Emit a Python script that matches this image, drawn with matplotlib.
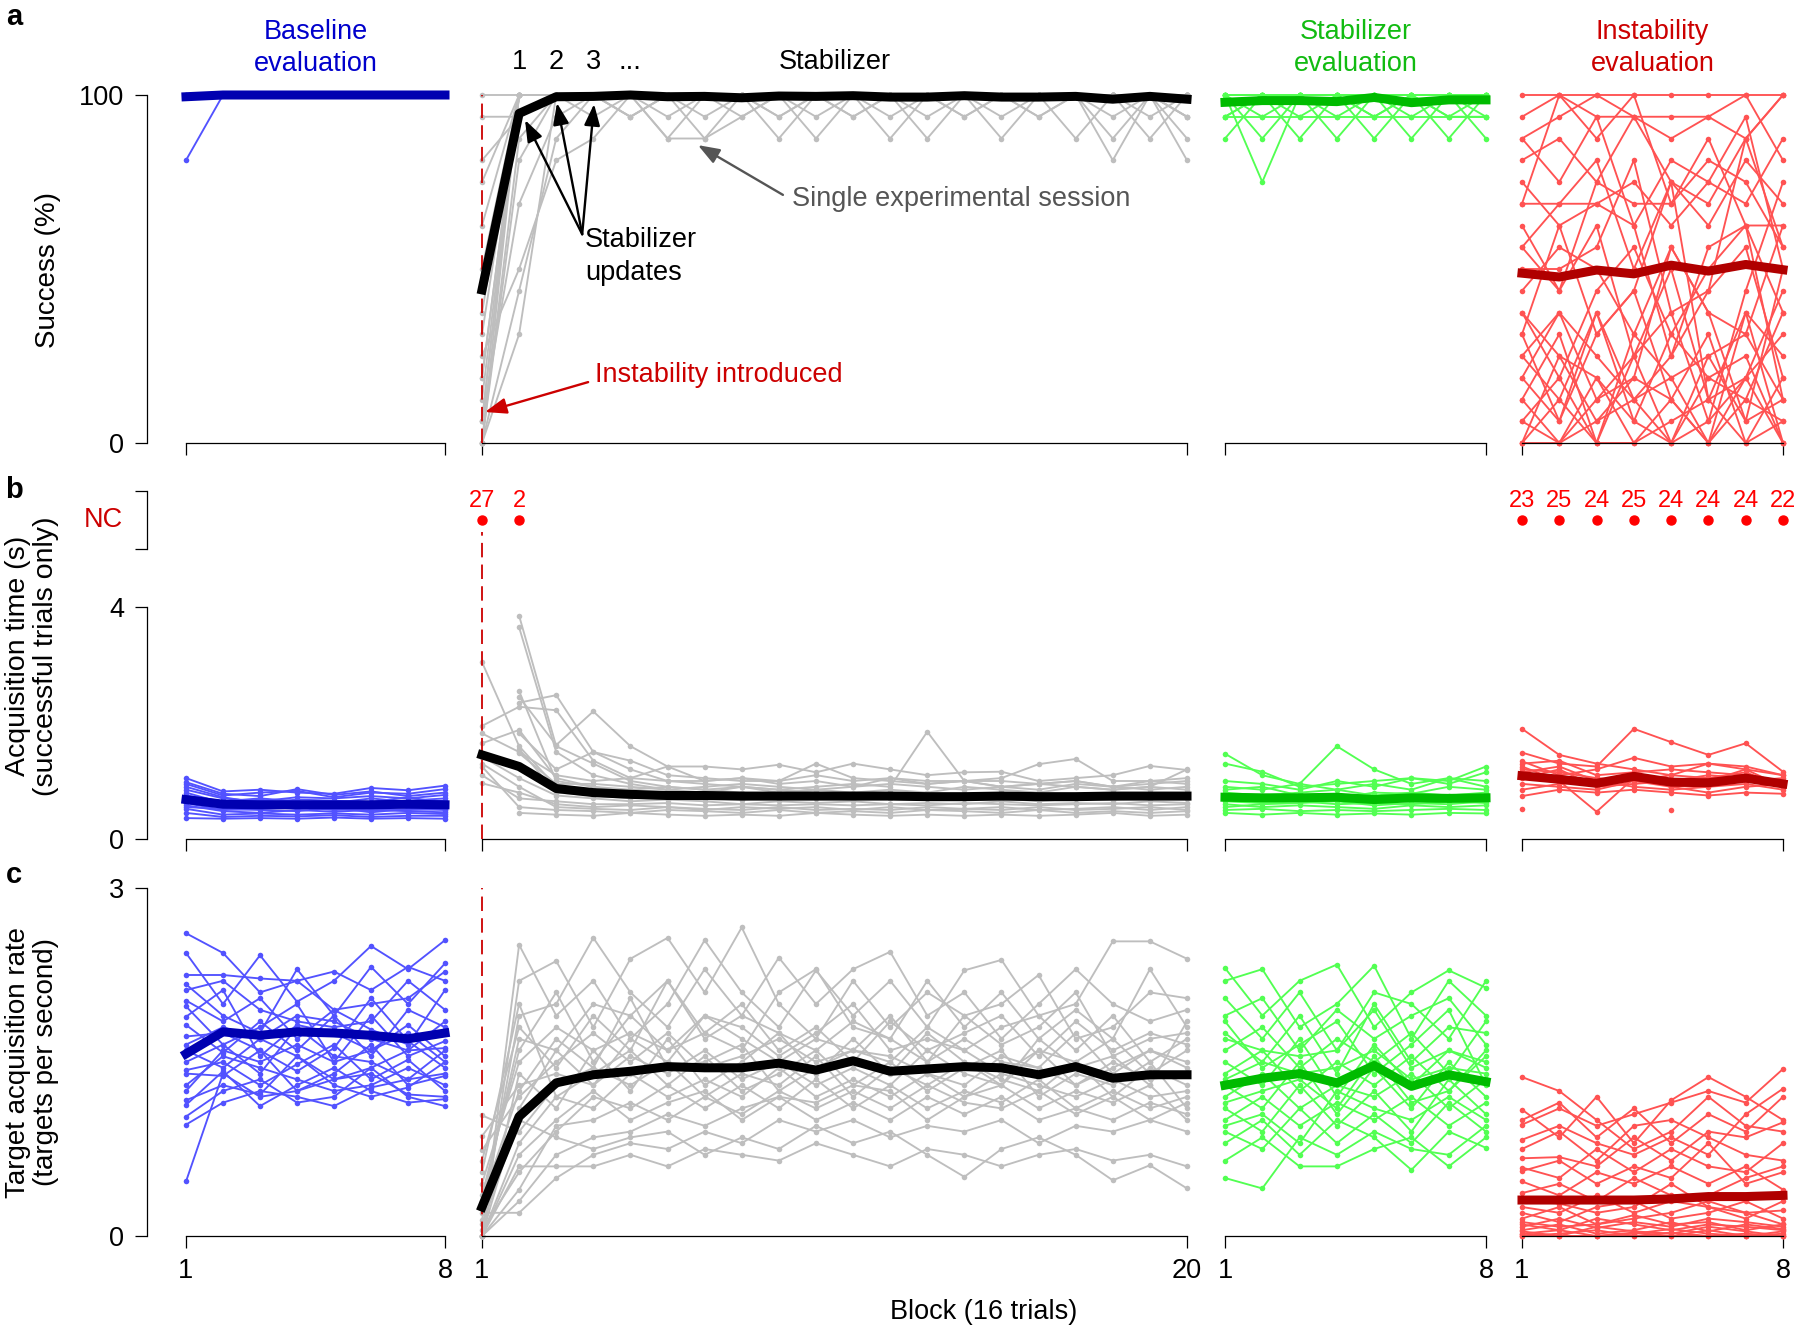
"""Stabilizer experiment: success, acquisition time and acquisition rate per block."""
import numpy as np
import matplotlib
matplotlib.use("Agg")
import matplotlib.pyplot as plt

nan = np.nan

# ---------------- data ----------------
n_blocks = [8, 20, 8, 8]   # baseline, stabilizer, stabilizer eval, instability eval

# a: successful trials (out of 16) per block, one row per session
base_a_hits = [
    [13, 16, 16, 16, 16, 16, 16, 16],
    [16, 16, 16, 16, 16, 16, 16, 16],
    [16, 16, 16, 16, 16, 16, 16, 16],
]
stab_a_hits = [
    [0, 16, 16, 16, 16, 16, 16, 16, 16, 16, 16, 16, 16, 16, 16, 16, 16, 16, 16, 16],
    [1, 16, 16, 16, 15, 16, 16, 16, 16, 16, 16, 16, 16, 16, 16, 16, 16, 16, 16, 15],
    [15, 15, 16, 16, 16, 16, 16, 16, 16, 16, 16, 16, 16, 16, 16, 16, 16, 16, 16, 16],
    [0, 14, 16, 16, 16, 15, 16, 16, 15, 16, 16, 16, 16, 16, 16, 15, 16, 16, 16, 16],
    [3, 16, 16, 16, 16, 16, 14, 16, 16, 16, 16, 16, 15, 16, 16, 16, 16, 16, 16, 16],
    [5, 16, 16, 15, 16, 16, 16, 15, 16, 16, 16, 15, 16, 16, 15, 16, 16, 15, 16, 15],
    [1, 11, 15, 16, 16, 16, 16, 16, 16, 16, 16, 16, 16, 16, 16, 16, 16, 16, 16, 16],
    [8, 16, 16, 16, 16, 16, 16, 16, 16, 16, 15, 16, 16, 16, 16, 16, 16, 14, 16, 16],
    [12, 16, 16, 16, 16, 14, 16, 16, 16, 14, 16, 16, 16, 15, 16, 16, 16, 16, 15, 16],
    [16, 16, 16, 16, 16, 16, 16, 16, 16, 16, 16, 16, 16, 16, 16, 16, 16, 16, 16, 16],
    [13, 15, 16, 16, 15, 16, 16, 16, 15, 16, 16, 16, 14, 16, 16, 16, 14, 16, 16, 14],
    [4, 8, 13, 14, 16, 16, 16, 16, 16, 16, 16, 16, 16, 16, 16, 16, 16, 16, 16, 16],
    [0, 5, 16, 16, 16, 16, 16, 16, 16, 16, 16, 16, 16, 16, 16, 16, 16, 16, 16, 16],
    [2, 16, 16, 16, 16, 14, 14, 15, 16, 16, 15, 16, 16, 16, 16, 16, 16, 16, 16, 15],
    [0, 7, 14, 16, 16, 16, 16, 16, 16, 16, 16, 16, 16, 16, 16, 16, 16, 16, 16, 16],
    [6, 16, 16, 16, 15, 16, 16, 16, 16, 15, 16, 16, 16, 16, 16, 15, 16, 16, 16, 13],
    [1, 16, 16, 16, 16, 16, 16, 16, 14, 16, 16, 16, 16, 16, 16, 16, 16, 13, 16, 16],
    [0, 13, 16, 16, 16, 16, 16, 16, 16, 16, 16, 16, 16, 16, 14, 16, 16, 16, 14, 16],
    [10, 16, 16, 16, 16, 16, 16, 16, 16, 16, 16, 14, 16, 16, 16, 16, 16, 16, 16, 16],
    [3, 16, 16, 16, 16, 16, 15, 16, 16, 16, 16, 16, 16, 15, 16, 16, 16, 16, 16, 16],
]
seval_a_hits = [
    [16, 16, 16, 16, 16, 16, 16, 16],
    [16, 15, 16, 16, 15, 16, 16, 16],
    [15, 16, 16, 14, 16, 16, 15, 16],
    [16, 16, 14, 16, 16, 14, 16, 15],
    [14, 16, 16, 16, 15, 16, 16, 14],
    [16, 12, 16, 15, 16, 16, 16, 16],
    [15, 15, 15, 15, 15, 15, 15, 15],
    [16, 16, 15, 16, 14, 16, 14, 16],
    [16, 14, 16, 16, 16, 15, 16, 16],
    [15, 16, 16, 16, 16, 16, 15, 15],
]
ieval_a_hits = [
    [16, 16, 16, 16, 16, 16, 16, 16],
    [15, 16, 15, 15, 15, 15, 14, 16],
    [14, 15, 16, 15, 14, 15, 16, 13],
    [13, 14, 12, 15, 12, 11, 14, 16],
    [12, 10, 11, 12, 10, 12, 15, 8],
    [11, 11, 13, 8, 12, 10, 13, 11],
    [10, 7, 12, 11, 11, 14, 10, 10],
    [9, 11, 11, 10, 4, 9, 10, 6],
    [8, 8, 9, 13, 6, 7, 14, 9],
    [7, 9, 8, 5, 9, 6, 5, 10],
    [6, 3, 7, 9, 5, 8, 10, 2],
    [5, 10, 5, 7, 12, 2, 6, 4],
    [4, 6, 2, 3, 9, 6, 1, 8],
    [3, 1, 5, 7, 2, 0, 3, 5],
    [2, 5, 0, 4, 6, 1, 7, 12],
    [1, 0, 3, 0, 2, 5, 0, 3],
    [0, 2, 6, 1, 0, 3, 4, 0],
    [0, 0, 1, 2, 3, 0, 2, 1],
    [1, 3, 0, 0, 1, 2, 0, 1],
    [2, 0, 2, 4, 0, 1, 3, 0],
    [6, 4, 3, 1, 5, 3, 2, 6],
    [3, 6, 4, 2, 0, 4, 5, 2],
    [9, 7, 10, 4, 8, 2, 3, 7],
    [14, 12, 15, 10, 13, 12, 11, 14],
    [11, 16, 14, 16, 11, 13, 12, 9],
    [5, 1, 6, 2, 4, 7, 9, 3],
    [0, 4, 1, 3, 2, 0, 6, 0],
    [4, 2, 0, 5, 3, 4, 1, 2],
]
base_a_mean = [99.5, 100, 100, 100, 100, 100, 100, 100]
stab_a_mean = [44.0, 94.7, 99.5, 99.6, 100, 99.5, 99.6, 99.2, 99.7, 99.6,
               99.8, 99.4, 99.4, 99.8, 99.4, 99.4, 99.6, 98.8, 99.6, 98.8]
seval_a_mean = [97.9, 98.4, 98.4, 98.1, 99.3, 97.8, 98.6, 98.6]
ieval_a_mean = [48.8, 47.7, 49.7, 48.6, 51.1, 49.4, 51.3, 49.8]

# b: acquisition time (s), successful trials only (nan = no successful trial)
base_b = [
    [1.05, 0.82, 0.85, 0.80, 0.78, 0.88, 0.84, 0.92],
    [0.95, 0.75, 0.80, 0.83, 0.72, 0.80, 0.78, 0.86],
    [0.85, 0.70, 0.65, 0.72, 0.70, 0.74, 0.70, 0.76],
    [0.80, 0.62, 0.68, 0.60, 0.64, 0.60, 0.66, 0.70],
    [0.72, 0.58, 0.56, 0.60, 0.58, 0.62, 0.60, 0.58],
    [0.68, 0.55, 0.60, 0.52, 0.56, 0.54, 0.58, 0.55],
    [0.62, 0.50, 0.52, 0.55, 0.50, 0.52, 0.50, 0.52],
    [0.58, 0.48, 0.45, 0.50, 0.47, 0.50, 0.48, 0.46],
    [0.52, 0.42, 0.44, 0.42, 0.44, 0.42, 0.45, 0.43],
    [0.45, 0.38, 0.40, 0.39, 0.41, 0.38, 0.40, 0.40],
    [0.75, 0.65, 0.70, 0.65, 0.62, 0.70, 0.64, 0.66],
    [0.90, 0.72, 0.62, 0.68, 0.66, 0.64, 0.72, 0.62],
    [0.65, 0.60, 0.58, 0.64, 0.60, 0.58, 0.55, 0.62],
    [0.55, 0.52, 0.50, 0.48, 0.54, 0.46, 0.52, 0.50],
    [0.98, 0.78, 0.74, 0.86, 0.76, 0.82, 0.74, 0.80],
    [0.36, 0.35, 0.36, 0.35, 0.37, 0.35, 0.36, 0.35],
]
stab_b = [
    [nan, 3.85, 1.60, 1.30, 1.00, 0.90, 0.85, 0.80, 0.75, 0.80, 0.70, 0.75, 0.80, 0.70, 0.72, 0.70, 0.75, 0.80, 0.70, 0.75],
    [nan, 3.65, 1.50, 1.10, 0.95, 0.85, 0.80, 0.90, 0.85, 0.80, 0.75, 0.80, 0.70, 0.75, 0.80, 0.70, 0.70, 0.72, 0.75, 0.70],
    [3.05, 1.60, 0.90, 0.85, 0.80, 0.75, 0.80, 0.70, 0.75, 0.70, 0.72, 0.70, 0.75, 0.70, 0.70, 0.72, 0.70, 0.68, 0.70, 0.72],
    [nan, 2.55, 1.00, 0.90, 0.80, 0.80, 0.70, 0.75, 0.70, 0.72, 0.70, 0.70, 0.72, 0.70, 0.70, 0.65, 0.70, 0.72, 0.70, 0.70],
    [nan, 2.45, 1.62, 2.20, 1.60, 1.25, 1.00, 1.05, 0.95, 1.00, 0.90, 1.05, 0.95, 1.00, 0.90, 0.95, 1.00, 0.90, 0.95, 1.00],
    [nan, 2.35, 2.48, 1.50, 1.20, 1.00, 0.95, 0.90, 0.85, 0.90, 0.95, 0.90, 1.85, 1.00, 0.90, 0.95, 0.90, 0.85, 0.90, 0.85],
    [1.95, 2.28, 2.22, 1.35, 1.05, 1.25, 1.25, 1.20, 1.28, 1.15, 1.30, 1.20, 1.10, 1.15, 1.16, 1.00, 1.05, 1.10, 1.26, 1.19],
    [1.82, 1.50, 1.10, 1.00, 1.05, 1.00, 1.00, 1.05, 1.00, 1.10, 1.00, 1.05, 1.00, 1.00, 1.05, 1.29, 1.38, 1.00, 1.00, 1.05],
    [1.65, 1.88, 1.05, 0.90, 0.85, 0.90, 0.85, 0.90, 0.80, 0.85, 0.80, 0.85, 0.80, 0.90, 0.85, 0.80, 0.90, 0.85, 0.90, 1.20],
    [1.42, 1.05, 0.75, 0.70, 0.65, 0.68, 0.65, 0.60, 0.65, 0.62, 0.65, 0.60, 0.62, 0.60, 0.65, 0.60, 0.62, 0.60, 0.65, 0.62],
    [0.96, 0.80, 0.60, 0.55, 0.58, 0.55, 0.50, 0.55, 0.52, 0.55, 0.50, 0.55, 0.50, 0.52, 0.55, 0.50, 0.52, 0.55, 0.50, 0.55],
    [1.25, 0.55, 0.50, 0.48, 0.45, 0.50, 0.48, 0.45, 0.50, 0.45, 0.48, 0.45, 0.50, 0.48, 0.45, 0.50, 0.45, 0.48, 0.45, 0.48],
    [nan, 0.45, 0.42, 0.40, 0.45, 0.42, 0.40, 0.42, 0.40, 0.45, 0.42, 0.40, 0.42, 0.40, 0.42, 0.40, 0.42, 0.45, 0.40, 0.42],
    [nan, 1.82, 1.20, 1.50, 1.35, 1.10, 1.05, 1.00, 1.00, 1.30, 1.05, 1.00, 0.95, 1.00, 1.00, 0.95, 1.00, 0.90, 1.00, 0.95],
    [1.10, 0.70, 0.65, 0.60, 0.60, 0.62, 0.58, 0.60, 0.58, 0.60, 0.58, 0.60, 0.58, 0.62, 0.60, 0.58, 0.60, 0.62, 0.58, 0.60],
    [nan, 1.55, 0.80, 0.75, 0.70, 0.72, 0.70, 0.68, 0.72, 0.70, 0.68, 0.70, 0.72, 0.70, 0.68, 0.72, 0.70, 0.68, 0.72, 0.70],
    [1.30, 0.90, 0.55, 0.52, 0.50, 0.55, 0.52, 0.50, 0.55, 0.50, 0.52, 0.50, 0.55, 0.52, 0.50, 0.55, 0.50, 0.52, 0.55, 0.50],
    [nan, 1.48, 0.95, 0.95, 0.90, 0.85, 0.90, 0.95, 0.90, 0.85, 0.90, 0.95, 0.90, 0.85, 0.90, 0.85, 0.95, 0.90, 0.85, 0.90],
]
seval_b = [
    [1.47, 1.10, 0.95, 1.60, 1.20, 0.95, 1.05, 1.00],
    [1.30, 1.16, 0.90, 0.95, 1.00, 1.05, 1.00, 1.25],
    [1.00, 0.95, 0.85, 1.00, 0.90, 1.05, 0.95, 1.15],
    [0.90, 0.85, 0.95, 0.85, 0.95, 0.85, 1.05, 0.90],
    [0.80, 0.75, 0.80, 0.85, 0.75, 0.80, 0.75, 0.80],
    [0.72, 0.70, 0.68, 0.75, 0.70, 0.72, 0.68, 0.70],
    [0.65, 0.62, 0.65, 0.60, 0.62, 0.60, 0.65, 0.62],
    [0.60, 0.55, 0.58, 0.55, 0.52, 0.58, 0.55, 0.58],
    [0.50, 0.52, 0.48, 0.50, 0.48, 0.50, 0.52, 0.50],
    [0.45, 0.42, 0.45, 0.42, 0.44, 0.42, 0.45, 0.44],
    [0.85, 0.90, 0.75, 0.70, 0.80, 0.78, 0.90, 0.85],
    [0.55, 0.60, 0.62, 0.65, 0.58, 0.62, 0.60, 0.65],
]
ieval_b = [
    [1.90, 1.45, 1.30, 1.20, 1.10, 1.30, 1.20, 1.10],
    [1.49, 1.30, 1.25, 1.90, 1.67, 1.45, 1.65, 1.16],
    [1.34, 1.10, 1.20, 1.40, 1.25, 1.30, 1.25, 1.10],
    [1.30, 1.35, 1.10, 1.15, 1.20, 1.15, 1.10, 1.00],
    [1.25, 1.00, 0.47, 1.05, 0.95, 1.00, 1.05, 0.95],
    [1.20, 1.15, 1.05, 1.00, 1.10, 1.05, 1.15, 0.90],
    [1.10, 1.05, 0.95, 1.10, 0.90, 0.95, 1.00, 1.05],
    [0.85, 0.95, 1.00, 0.90, 0.85, 0.90, 0.95, 0.85],
    [0.74, 0.85, 0.80, 0.85, 0.80, 0.75, 0.80, 0.78],
    [0.52, nan, nan, nan, nan, nan, nan, nan],
    [nan, nan, nan, nan, 0.50, nan, nan, nan],
    [1.05, 1.20, 0.90, 0.95, 1.00, 1.10, 1.05, 1.00],
    [0.95, 0.90, 0.85, 1.00, 0.90, 0.80, 0.90, 0.95],
    [1.15, 1.25, 1.00, 1.05, 0.95, 1.00, 1.20, 0.90],
]
base_b_mean = [0.68, 0.60, 0.59, 0.59, 0.59, 0.59, 0.60, 0.59]
stab_b_mean = [1.45, 1.25, 0.87, 0.80, 0.77, 0.75, 0.75, 0.74, 0.74, 0.74,
               0.74, 0.74, 0.73, 0.73, 0.74, 0.73, 0.73, 0.74, 0.74, 0.74]
seval_b_mean = [0.72, 0.71, 0.71, 0.72, 0.68, 0.71, 0.70, 0.71]
ieval_b_mean = [1.09, 1.03, 0.96, 1.08, 0.98, 0.97, 1.05, 0.95]

# sessions with no successful trial (NC) per block
stab_nc_blocks, stab_nc = [1, 2], [27, 2]
ieval_nc_blocks, ieval_nc = [1, 2, 3, 4, 5, 6, 7, 8], [23, 25, 24, 25, 24, 24, 24, 22]

# c: target acquisition rate (targets per second)
base_c = [
    [2.61, 2.44, 2.10, 2.20, 1.95, 2.00, 2.05, 2.28],
    [2.44, 2.00, 2.42, 2.02, 2.20, 2.50, 2.30, 2.55],
    [2.25, 2.25, 2.22, 2.20, 2.28, 2.12, 2.32, 2.20],
    [2.17, 1.90, 1.75, 2.30, 1.90, 2.32, 2.00, 2.35],
    [2.12, 2.20, 1.95, 1.85, 1.80, 1.85, 2.20, 1.95],
    [2.03, 1.85, 2.05, 1.70, 1.95, 1.78, 1.65, 2.12],
    [1.98, 1.65, 1.80, 2.00, 1.50, 1.90, 1.55, 1.68],
    [1.89, 2.12, 1.55, 1.82, 1.75, 1.60, 1.82, 1.55],
    [1.82, 1.58, 1.85, 1.60, 1.90, 1.55, 1.95, 1.80],
    [1.72, 1.75, 1.60, 1.42, 1.62, 2.05, 1.68, 1.45],
    [1.60, 1.45, 1.70, 1.55, 1.35, 1.45, 1.60, 1.62],
    [1.50, 1.65, 1.40, 1.80, 1.55, 1.50, 1.35, 1.60],
    [1.43, 1.50, 1.30, 1.48, 1.65, 1.35, 1.52, 1.25],
    [1.40, 1.38, 1.60, 1.25, 1.40, 1.65, 1.30, 1.38],
    [1.30, 1.55, 1.45, 1.35, 1.25, 1.30, 1.45, 1.30],
    [1.17, 1.30, 1.22, 1.55, 1.30, 1.20, 1.28, 1.50],
    [1.13, 1.42, 1.12, 1.30, 1.45, 1.25, 1.15, 1.18],
    [1.03, 1.25, 1.35, 1.15, 1.20, 1.45, 1.20, 1.12],
    [0.96, 1.15, 1.25, 1.20, 1.12, 1.28, 1.35, 1.40],
    [0.47, 1.40, 1.20, 1.25, 1.35, 1.40, 1.22, 1.20],
    [1.25, 1.60, 1.50, 1.65, 1.50, 1.60, 1.75, 1.50],
    [1.65, 1.80, 1.70, 1.90, 1.85, 1.70, 1.60, 1.85],
]
stab_c = [
    [0.00, 2.51, 1.90, 2.20, 1.70, 2.00, 2.55, 2.10, 1.80, 2.29, 1.90, 2.20, 1.80, 2.29, 2.38, 1.90, 2.00, 2.54, 2.54, 2.39],
    [0.00, 2.20, 2.37, 1.80, 2.39, 2.57, 2.10, 2.66, 2.00, 1.70, 2.20, 1.80, 2.10, 1.90, 2.00, 2.25, 1.70, 1.80, 2.10, 2.05],
    [0.14, 1.90, 2.00, 2.57, 2.10, 1.80, 2.30, 1.90, 2.40, 2.00, 2.30, 2.45, 1.90, 2.10, 1.70, 2.00, 2.30, 2.00, 1.85, 1.95],
    [0.28, 1.70, 1.60, 2.00, 1.90, 2.20, 1.75, 1.60, 2.10, 2.30, 1.80, 1.70, 2.20, 1.80, 2.10, 1.70, 1.95, 1.70, 2.30, 1.80],
    [0.45, 1.50, 1.80, 1.60, 1.75, 1.60, 1.90, 1.80, 1.55, 1.75, 2.00, 1.60, 1.70, 1.60, 1.80, 1.90, 1.60, 1.90, 1.50, 1.70],
    [0.74, 1.20, 1.50, 1.75, 1.50, 1.75, 1.45, 1.55, 1.70, 1.50, 1.60, 1.90, 1.50, 1.70, 1.50, 1.45, 1.75, 1.40, 1.60, 1.50],
    [0.86, 1.30, 1.40, 1.30, 1.55, 1.40, 1.60, 1.35, 1.50, 1.30, 1.45, 1.30, 1.60, 1.40, 1.30, 1.60, 1.30, 1.50, 1.35, 1.40],
    [1.04, 0.90, 1.30, 1.45, 1.30, 1.50, 1.20, 1.40, 1.30, 1.55, 1.20, 1.45, 1.30, 1.50, 1.35, 1.25, 1.50, 1.20, 1.45, 1.30],
    [0.00, 0.80, 1.20, 1.10, 1.40, 1.20, 1.35, 1.20, 1.45, 1.20, 1.35, 1.20, 1.40, 1.20, 1.40, 1.30, 1.20, 1.35, 1.20, 1.25],
    [0.05, 0.55, 0.90, 1.20, 1.10, 1.30, 1.10, 1.30, 1.10, 1.35, 1.10, 1.30, 1.10, 1.25, 1.15, 1.35, 1.10, 1.25, 1.10, 1.20],
    [0.00, 0.30, 0.70, 0.85, 0.90, 1.05, 0.95, 1.10, 1.20, 1.00, 1.15, 1.00, 1.20, 1.05, 1.20, 1.00, 1.10, 1.00, 1.15, 1.05],
    [0.20, 0.20, 0.50, 0.70, 0.80, 0.75, 0.90, 0.80, 1.00, 0.90, 1.00, 0.85, 0.95, 0.90, 1.00, 0.80, 0.95, 0.90, 1.00, 0.90],
    [0.10, 1.00, 0.85, 0.75, 0.85, 0.90, 0.70, 0.85, 0.75, 0.95, 0.80, 0.90, 0.70, 0.51, 0.75, 0.85, 0.70, 0.48, 0.61, 0.41],
    [0.00, 0.60, 0.60, 0.60, 0.70, 0.60, 0.75, 0.70, 0.65, 0.80, 0.70, 0.60, 0.75, 0.70, 0.60, 0.70, 0.75, 0.65, 0.70, 0.60],
    [0.35, 1.60, 2.10, 1.50, 1.90, 1.60, 1.75, 2.00, 1.60, 1.80, 1.50, 1.85, 1.60, 1.75, 1.90, 1.55, 1.85, 1.60, 1.75, 1.65],
    [0.00, 1.40, 1.10, 1.60, 1.25, 1.70, 1.30, 1.50, 1.75, 1.40, 1.70, 1.40, 1.75, 1.50, 1.30, 1.70, 1.45, 1.55, 1.30, 1.85],
    [0.55, 2.00, 1.20, 1.40, 1.60, 1.30, 1.55, 1.25, 1.40, 1.60, 1.30, 1.50, 1.25, 1.45, 1.60, 1.20, 1.40, 1.30, 1.50, 1.10],
    [0.00, 0.40, 0.95, 1.00, 1.15, 1.00, 1.20, 1.05, 1.25, 1.10, 1.25, 1.10, 1.30, 1.15, 1.10, 1.25, 1.05, 1.20, 1.00, 1.15],
    [0.00, 1.10, 1.60, 1.30, 1.70, 1.50, 1.90, 1.70, 1.50, 1.70, 1.60, 1.50, 1.80, 1.60, 1.40, 1.60, 1.50, 1.70, 1.40, 1.60],
    [0.65, 1.80, 1.45, 1.90, 1.60, 2.20, 1.70, 1.90, 1.75, 1.60, 1.85, 1.70, 1.50, 1.90, 1.65, 1.80, 2.10, 1.55, 1.70, 1.75],
    [0.00, 0.70, 1.00, 1.25, 1.00, 1.15, 1.25, 1.00, 1.20, 1.15, 1.30, 1.25, 1.00, 1.20, 1.30, 1.10, 1.25, 1.15, 1.30, 1.00],
    [0.30, 1.25, 1.70, 1.45, 2.05, 1.45, 1.50, 1.65, 1.25, 1.45, 1.60, 1.55, 1.40, 1.30, 1.55, 1.45, 1.30, 1.45, 1.60, 1.45],
]
seval_c = [
    [2.31, 1.90, 2.20, 2.34, 1.80, 2.10, 2.29, 2.14],
    [2.20, 2.30, 1.80, 2.00, 2.33, 1.70, 2.20, 1.90],
    [2.05, 1.70, 2.10, 1.60, 2.10, 2.00, 1.70, 2.20],
    [1.90, 2.05, 1.60, 1.95, 1.70, 1.90, 2.05, 1.65],
    [1.75, 1.50, 1.90, 1.40, 2.00, 1.50, 1.80, 1.75],
    [1.60, 1.80, 1.45, 1.70, 1.50, 1.75, 1.40, 1.85],
    [1.50, 1.30, 1.70, 1.20, 1.65, 1.30, 1.60, 1.45],
    [1.40, 1.60, 1.25, 1.50, 1.30, 1.55, 1.25, 1.60],
    [1.30, 1.10, 1.50, 1.05, 1.45, 1.10, 1.50, 1.20],
    [1.20, 1.40, 1.10, 1.30, 1.20, 1.40, 1.10, 1.35],
    [1.10, 0.90, 1.30, 0.95, 1.25, 0.90, 1.35, 1.05],
    [1.00, 1.20, 0.95, 1.15, 1.00, 1.20, 0.95, 1.15],
    [0.90, 0.75, 1.10, 0.80, 1.05, 0.80, 1.15, 0.90],
    [0.80, 1.00, 0.70, 1.00, 0.85, 0.57, 0.90, 0.76],
    [0.50, 0.41, 0.85, 0.70, 0.90, 0.75, 0.70, 0.95],
    [0.65, 0.85, 0.60, 0.60, 0.75, 0.85, 0.60, 0.85],
    [1.70, 1.60, 1.55, 1.60, 1.95, 1.45, 1.60, 1.50],
    [1.35, 1.50, 1.40, 1.45, 1.60, 1.35, 1.45, 1.40],
    [1.85, 1.45, 1.65, 1.85, 1.40, 1.65, 1.95, 1.30],
    [1.15, 1.25, 1.35, 1.10, 1.55, 1.15, 1.25, 1.55],
    [0.95, 1.05, 0.80, 1.25, 1.10, 1.00, 1.20, 1.00],
]
ieval_c = [
    [1.37, 1.25, 1.00, 0.75, 0.90, 1.20, 0.95, 0.90],
    [1.09, 0.85, 1.20, 0.80, 1.17, 1.37, 1.20, 1.00],
    [0.96, 1.10, 0.95, 1.05, 1.15, 1.25, 1.15, 1.44],
    [0.83, 0.95, 0.80, 0.70, 0.85, 0.70, 1.05, 1.27],
    [0.67, 0.68, 0.60, 0.85, 0.65, 0.90, 0.85, 0.98],
    [0.59, 0.50, 0.75, 0.55, 0.75, 0.60, 0.55, 0.80],
    [0.56, 0.65, 0.45, 0.60, 0.50, 0.80, 0.45, 0.55],
    [0.47, 0.35, 0.55, 0.45, 0.60, 0.45, 0.60, 0.40],
    [0.37, 0.45, 0.30, 0.50, 0.35, 0.35, 0.50, 0.60],
    [0.25, 0.20, 0.35, 0.20, 0.30, 0.25, 0.15, 0.30],
    [0.15, 0.25, 0.10, 0.15, 0.20, 0.30, 0.20, 0.10],
    [0.10, 0.05, 0.15, 0.10, 0.05, 0.10, 0.08, 0.05],
    [0.05, 0.10, 0.02, 0.05, 0.12, 0.04, 0.10, 0.06],
    [0.00, 0.02, 0.05, 0.00, 0.03, 0.00, 0.02, 0.00],
    [0.02, 0.00, 0.00, 0.03, 0.00, 0.05, 0.00, 0.02],
    [0.00, 0.00, 0.00, 0.00, 0.00, 0.00, 0.00, 0.00],
    [0.20, 0.12, 0.25, 0.30, 0.15, 0.20, 0.30, 0.15],
    [0.75, 0.90, 0.65, 0.95, 1.00, 0.85, 0.70, 0.65],
    [0.30, 0.28, 0.20, 0.25, 0.45, 0.25, 0.20, 0.22],
    [0.08, 0.15, 0.07, 0.12, 0.08, 0.15, 0.12, 0.08],
    [0.02, 0.05, 0.00, 0.02, 0.06, 0.02, 0.00, 0.04],
    [0.12, 0.08, 0.10, 0.18, 0.10, 0.12, 0.05, 0.10],
    [0.04, 0.00, 0.08, 0.04, 0.02, 0.08, 0.04, 0.00],
    [1.00, 1.15, 0.85, 1.10, 0.80, 1.05, 0.90, 1.20],
]
base_c_mean = [1.57, 1.76, 1.73, 1.76, 1.75, 1.73, 1.70, 1.75]
stab_c_mean = [0.25, 1.03, 1.32, 1.39, 1.42, 1.46, 1.45, 1.45, 1.49, 1.43,
               1.51, 1.42, 1.44, 1.46, 1.45, 1.39, 1.46, 1.36, 1.39, 1.39]
seval_c_mean = [1.30, 1.36, 1.40, 1.32, 1.47, 1.29, 1.39, 1.33]
ieval_c_mean = [0.31, 0.31, 0.31, 0.31, 0.32, 0.34, 0.34, 0.35]

# ---------------- style ----------------
plt.rcParams['font.family'] = ['Liberation Sans', 'DejaVu Sans']
FS = 19.5

W, H = 1800, 1334
panel_px = [(186, 445), (482, 1187), (1225, 1486), (1522, 1783)]   # x of first/last block
row_px = [(443, 95), (839, 491), (1236, 888)]                      # y of ylim bottom/top
row_lim = [(0, 100), (0, 6), (0, 3)]
row_ticks = [[0, 100], [0, 4], [0, 3]]
light = ['#5252ff', '#bebebe', '#52ff52', '#ff5252']
dark = ['#0000b0', '#000000', '#00bb00', '#b00000']
RED = '#cc0000'

fig = plt.figure(figsize=(W / 100, H / 100), dpi=100)

rows = [
    [[np.array(s) / 16 * 100 for s in base_a_hits], [np.array(s) / 16 * 100 for s in stab_a_hits],
     [np.array(s) / 16 * 100 for s in seval_a_hits], [np.array(s) / 16 * 100 for s in ieval_a_hits]],
    [base_b, stab_b, seval_b, ieval_b],
    [base_c, stab_c, seval_c, ieval_c],
]
means = [
    [base_a_mean, stab_a_mean, seval_a_mean, ieval_a_mean],
    [base_b_mean, stab_b_mean, seval_b_mean, ieval_b_mean],
    [base_c_mean, stab_c_mean, seval_c_mean, ieval_c_mean],
]

axes = [[None] * 4 for _ in range(3)]
for r in range(3):
    yb, yt = row_px[r]
    for p in range(4):
        x0, x1 = panel_px[p]
        n = n_blocks[p]
        ax = fig.add_axes([x0 / W, 1 - yb / H, (x1 - x0) / W, (yb - yt) / H])
        ax.patch.set_visible(False)
        ax.set_xlim(1, n)
        ax.set_ylim(*row_lim[r])
        for side in ['top', 'right']:
            ax.spines[side].set_visible(False)
        ax.spines['bottom'].set_bounds(1, n)
        ax.spines['bottom'].set_linewidth(0.9)
        ax.set_xticks([1, n])
        ax.tick_params(axis='x', length=8.5, width=0.9, pad=7, labelsize=FS,
                       labelbottom=(r == 2))
        if p == 0:
            ax.spines['left'].set_position(('outward', 28))
            ax.spines['left'].set_bounds(*(row_ticks[r]))
            ax.spines['left'].set_linewidth(0.9)
            ax.set_yticks(row_ticks[r])
            ax.tick_params(axis='y', length=8.5, width=0.9, pad=8, labelsize=FS)
        else:
            ax.spines['left'].set_visible(False)
            ax.set_yticks([])

        x = np.arange(1, n + 1)
        for s in rows[r][p]:
            ax.plot(x, s, color=light[p], lw=1.35, marker='o', ms=4, mew=0,
                    clip_on=False, zorder=2)
        ax.plot(x, means[r][p], color=dark[p], lw=6.5, clip_on=False, zorder=5)
        axes[r][p] = ax

# red dashed line: instability introduced at stabilizer block 1
for r, top in zip(range(3), [100, 5.3, 3]):
    axes[r][1].plot([1, 1], [0, top], color=RED, lw=1.3, ls=(0, (8, 4)),
                    clip_on=False, zorder=3)

# ---- row b: NC bracket and counts
axb = axes[1][0]
trans = axb.get_yaxis_transform()
xs = -39 / (panel_px[0][1] - panel_px[0][0])
axb.plot([xs, xs], [5, 6], color='k', lw=0.9, transform=trans, clip_on=False)
axb.plot([xs, xs], [5, 6], ls='none', marker=0, ms=8.5, mew=0.9, color='k',
         transform=trans, clip_on=False)
axb.text(-0.245, 5.5, 'NC', transform=trans, ha='right', va='center',
         color=RED, fontsize=FS)
for p, blocks, counts in [(1, stab_nc_blocks, stab_nc), (3, ieval_nc_blocks, ieval_nc)]:
    ax = axes[1][p]
    ax.plot(blocks, [5.5] * len(blocks), 'o', color='#ff0000', ms=6.5, clip_on=False)
    for b, c in zip(blocks, counts):
        ax.text(b, 5.82, str(c), ha='center', va='center', color='#ff0000', fontsize=17)

# ---- row a: titles and annotations
titles = ['Baseline\nevaluation', None, 'Stabilizer\nevaluation', 'Instability\nevaluation']
title_colors = ['#0000cc', None, '#11bb11', '#cc0000']
for p in [0, 2, 3]:
    axes[0][p].text((1 + n_blocks[p]) / 2, 113.5, titles[p], ha='center', va='center',
                    color=title_colors[p], fontsize=FS, linespacing=1.3)

axs = axes[0][1]
for lab, k in zip(['1', '2', '3', '...'], [2, 3, 4, 5]):
    axs.text(k, 109.5, lab, ha='center', va='center', fontsize=FS)
axs.text(10.5, 109.5, 'Stabilizer', ha='center', va='center', fontsize=FS)

axs.text(3.78, 53.6, 'Stabilizer\nupdates', ha='left', va='center', fontsize=FS,
         linespacing=1.35)
head = '-|>,head_length=0.65,head_width=0.24'
for hk, hv in [(2.16, 92.8), (3.02, 97.7), (4.02, 97.4)]:
    axs.annotate('', xy=(hk, hv), xytext=(3.70, 60.0),
                 arrowprops=dict(arrowstyle=head, color='k', lw=1.7, mutation_scale=20,
                                 shrinkA=0, shrinkB=0), zorder=6)

axs.text(9.36, 70.1, 'Single experimental session', ha='left', va='center',
         color='#555555', fontsize=FS)
axs.annotate('', xy=(6.82, 85.6), xytext=(9.11, 71.3),
             arrowprops=dict(arrowstyle=head, color='#555555', lw=1.7, mutation_scale=20,
                             shrinkA=0, shrinkB=0), zorder=6)

axs.text(4.05, 19.5, 'Instability introduced', ha='left', va='center',
         color=RED, fontsize=FS)
axs.annotate('', xy=(1.08, 8.9), xytext=(3.86, 17.5),
             arrowprops=dict(arrowstyle=head, color=RED, lw=1.7, mutation_scale=20,
                             shrinkA=0, shrinkB=0), zorder=6)

# ---- axis labels and panel letters
fig.text(48 / W, 1 - 270 / H, 'Success (%)', rotation=90, ha='center', va='center',
         fontsize=20)
fig.text(32 / W, 1 - 656 / H, 'Acquisition time (s)\n(successful trials only)',
         rotation=90, ha='center', va='center', fontsize=20.5, linespacing=1.1)
fig.text(32 / W, 1 - 1062 / H, 'Target acquisition rate\n(targets per second)',
         rotation=90, ha='center', va='center', fontsize=20, linespacing=1.1)
fig.text(984 / W, 1 - 1312 / H, 'Block (16 trials)', ha='center', va='center', fontsize=FS)

for lab, y in [('a', 17), ('b', 490), ('c', 875)]:
    fig.text(14 / W, 1 - y / H, lab, ha='center', va='center', fontsize=21,
             fontweight='bold')

fig.savefig('out.png', dpi=100)
